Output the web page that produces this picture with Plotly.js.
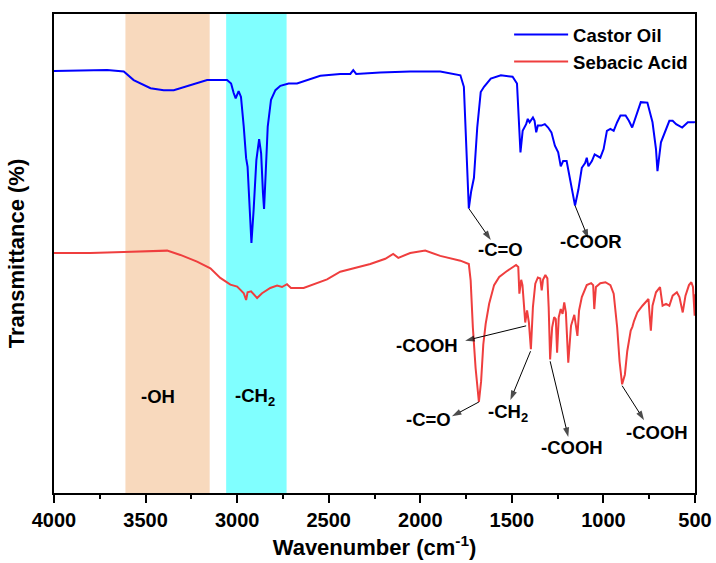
<!DOCTYPE html>
<html>
<head>
<meta charset="utf-8">
<script src="https://cdn.plot.ly/plotly-3.0.1.min.js"></script>
<style>
html,body{margin:0;padding:0;background:#fff;}
#chart{width:716px;height:563px;}
</style>
</head>
<body>
<div id="chart"></div>
<script>
// ---- data ----
var castorWn = [4000,3801,3710,3619,3565,3473,3401,3346,3255,3164,3055,3033,3019,3008,2992,2979,2964,2951,2943,2932,2922,2910,2895,2880,2869,2859,2853,2844,2833,2815,2791,2764,2719,2673,2618,2546,2437,2382,2366,2350,2219,2055,1891,1781,1762,1748,1735,1722,1707,1689,1670,1652,1615,1560,1496,1472,1465,1453,1441,1422,1413,1403,1385,1376,1367,1358,1339,1320,1302,1284,1265,1247,1233,1220,1201,1183,1168,1155,1137,1118,1100,1091,1082,1063,1048,1036,1017,999,981,962,944,925,907,879,861,843,824,796,760,732,713,705,686,667,640,622,603,570,539,502,500];
var castorT = [88.1,88.3,88.3,88.0,86.2,84.5,84.1,84.1,85.2,86.2,86.2,85.5,83.5,82.4,83.9,82.7,76.5,69.9,68.1,59.1,52.2,59.1,69.5,73.9,70.9,62.6,59.3,66.8,76.5,82.1,84.1,85.0,85.5,85.5,86.2,87.1,87.5,87.5,88.3,87.5,87.8,88.0,88.0,87.2,84.8,72.8,59.4,63.0,65.8,76.3,83.7,84.8,86.5,87.2,86.9,85.5,79.8,71.1,75.6,77.0,78.1,77.4,78.4,77.7,75.3,76.7,76.7,77.0,76.3,75.3,72.5,71.1,68.2,69.3,69.3,65.8,62.3,60.0,63.3,67.9,68.9,70.0,68.2,69.3,70.7,70.4,70.0,71.8,75.6,76.0,75.6,77.4,78.8,78.8,77.7,76.3,78.4,81.6,81.5,77.4,71.8,67.2,73.2,74.9,77.7,77.7,77.0,76.3,77.4,77.4,77.3];

var sebacicWn = [4000,3801,3619,3382,3310,3219,3146,3092,3037,3000,2982,2964,2951,2943,2924,2910,2891,2864,2819,2782,2755,2728,2706,2637,2564,2509,2437,2355,2273,2191,2148,2120,2055,1973,1891,1781,1753,1735,1725,1713,1698,1680,1668,1656,1643,1624,1597,1569,1532,1501,1477,1465,1459,1449,1442,1435,1427,1417,1407,1396,1385,1372,1358,1345,1337,1330,1317,1306,1299,1291,1280,1269,1260,1253,1244,1233,1223,1214,1205,1192,1177,1159,1150,1142,1133,1118,1091,1067,1056,1050,1041,1017,989,962,944,925,912,898,883,870,851,842,833,815,787,765,754,747,741,732,713,691,677,658,640,622,599,585,567,552,533,520,511,502,500];
var sebacicT = [50.1,50.1,50.3,50.6,49.7,48.3,46.9,44.9,43.5,43.1,42.4,41.7,40.3,41.9,42.1,41.4,40.7,41.7,42.8,43.3,43.0,43.6,42.8,42.8,43.8,44.6,46.2,47.0,47.8,48.9,49.9,49.1,50.1,50.6,49.5,48.5,48.0,47.8,44.4,34.6,26.1,19.0,23.3,31.0,35.3,39.5,43.4,45.1,46.2,46.9,47.6,47.2,41.6,44.5,43.4,39.8,35.6,38.1,35.6,30.0,38.8,43.7,45.0,44.8,42.3,44.5,45.5,44.8,38.8,27.9,34.6,36.7,36.3,29.3,36.7,38.4,37.4,39.8,37.7,27.2,34.9,37.2,34.6,32.8,38.1,40.9,43.4,43.8,43.4,38.4,43.0,43.8,44.0,43.4,41.6,34.6,27.5,22.7,24.7,29.6,33.9,34.7,35.9,37.7,39.1,40.2,40.5,36.7,33.9,39.1,41.9,43.0,39.1,39.5,39.1,41.2,41.9,40.9,37.7,41.2,43.4,44.0,43.0,37.0,41.5];

var seriesNames = ['Castor Oil', 'Sebacic Acid'];
var xTickVals = [4000,3500,3000,2500,2000,1500,1000,500];

// shaded bands (wavenumber ranges)
var bandLo = [3150, 2730];
var bandHi = [3610, 3060];
var bandLabels = ['-OH', '-CH<sub>2</sub>'];
var bandLabelX = [3430, 2905];
var bandLabelY = [20.1, 20.1];

// peak labels
var peakLabels = ['-C=O', '-COOR', '-COOH', '-C=O', '-CH<sub>2</sub>', '-COOH', '-COOH'];
var peakLabelX = [1560, 1067, 1964, 1957, 1523, 1174, 705];
var peakLabelY = [50.9, 52.6, 30.7, 15.3, 16.6, 9.6, 12.7];
// arrows: from peak (tail) to label (head)
var arrowTailX = [1735, 1155, 1422, 1680, 1398, 1291, 898];
var arrowTailY = [59.4, 60.0, 34.9, 19.0, 29.6, 27.5, 22.4];
var arrowHeadX = [1615, 1082, 1755, 1827, 1508, 1192, 778];
var arrowHeadY = [52.8, 53.1, 31.8, 16.0, 19.4, 11.7, 15.2];

// ---- chart ----
var FONT = 'Liberation Sans, Arial, Helvetica, sans-serif';

var traces = [
  {x: castorWn, y: castorT, name: seriesNames[0], type: 'scatter', mode: 'lines',
   line: {color: '#0000FF', width: 2}},
  {x: sebacicWn, y: sebacicT, name: seriesNames[1], type: 'scatter', mode: 'lines',
   line: {color: '#EF3E3E', width: 2}}
];

// arrows drawn as short line traces ending in an arrow marker
arrowTailX.forEach(function(tx, i){
  traces.push({
    x: [tx, arrowHeadX[i]], y: [arrowTailY[i], arrowHeadY[i]],
    type: 'scatter', mode: 'lines+markers', showlegend: false, hoverinfo: 'skip',
    line: {color: '#000', width: 1},
    marker: {symbol: 'arrow', angleref: 'previous', size: [0, 10], color: '#000', line: {width: 0}}
  });
});

var bandColors = ['#F8D9BD', '#80FFFF'];
var shapes = bandLo.map(function(lo, i){
  return {type: 'rect', xref: 'x', yref: 'paper', x0: lo, x1: bandHi[i], y0: 0, y1: 1,
          fillcolor: bandColors[i], line: {width: 0}, layer: 'below'};
});

var annotations = [];
bandLabels.forEach(function(t, i){
  annotations.push({x: bandLabelX[i], y: bandLabelY[i], xref: 'x', yref: 'y', text: t,
    showarrow: false, font: {family: FONT, size: 18.5, color: '#000', weight: 'bold'}});
});
peakLabels.forEach(function(t, i){
  annotations.push({x: peakLabelX[i], y: peakLabelY[i], xref: 'x', yref: 'y', text: t,
    showarrow: false, font: {family: FONT, size: 18.5, color: '#000', weight: 'bold'}});
});

var layout = {
  width: 716, height: 563,
  margin: {l: 54, r: 21, t: 14, b: 70, pad: 0},
  paper_bgcolor: '#fff', plot_bgcolor: '#fff',
  font: {family: FONT, color: '#000'},
  showlegend: true,
  legend: {x: 0.71, xanchor: 'left', y: 0.996, yanchor: 'top', bgcolor: 'rgba(0,0,0,0)',
           itemwidth: 54, font: {family: FONT, size: 18.5, color: '#000', weight: 'bold'}},
  xaxis: {
    range: [4000, 500], autorange: false,
    tickvals: xTickVals, ticks: 'outside', ticklen: 8, tickwidth: 2, tickcolor: '#000',
    minor: {dtick: 250, ticks: 'outside', ticklen: 4, tickwidth: 2, tickcolor: '#000', showgrid: false},
    showline: true, linewidth: 2, linecolor: '#000', mirror: true,
    showgrid: false, zeroline: false,
    tickfont: {family: FONT, size: 20, color: '#000', weight: 'bold'},
    title: {text: 'Wavenumber (cm<sup>-1</sup>)', font: {family: FONT, size: 22, color: '#000', weight: 'bold'}, standoff: 10}
  },
  yaxis: {
    range: [0, 100], autorange: false,
    showticklabels: false, ticks: '',
    showline: true, linewidth: 2, linecolor: '#000', mirror: true,
    showgrid: false, zeroline: false,
    title: {text: 'Transmittance (%)', font: {family: FONT, size: 22, color: '#000', weight: 'bold'}, standoff: 21}
  },
  shapes: shapes,
  annotations: annotations
};

Plotly.newPlot('chart', traces, layout, {displayModeBar: false, staticPlot: true});
</script>
</body>
</html>
